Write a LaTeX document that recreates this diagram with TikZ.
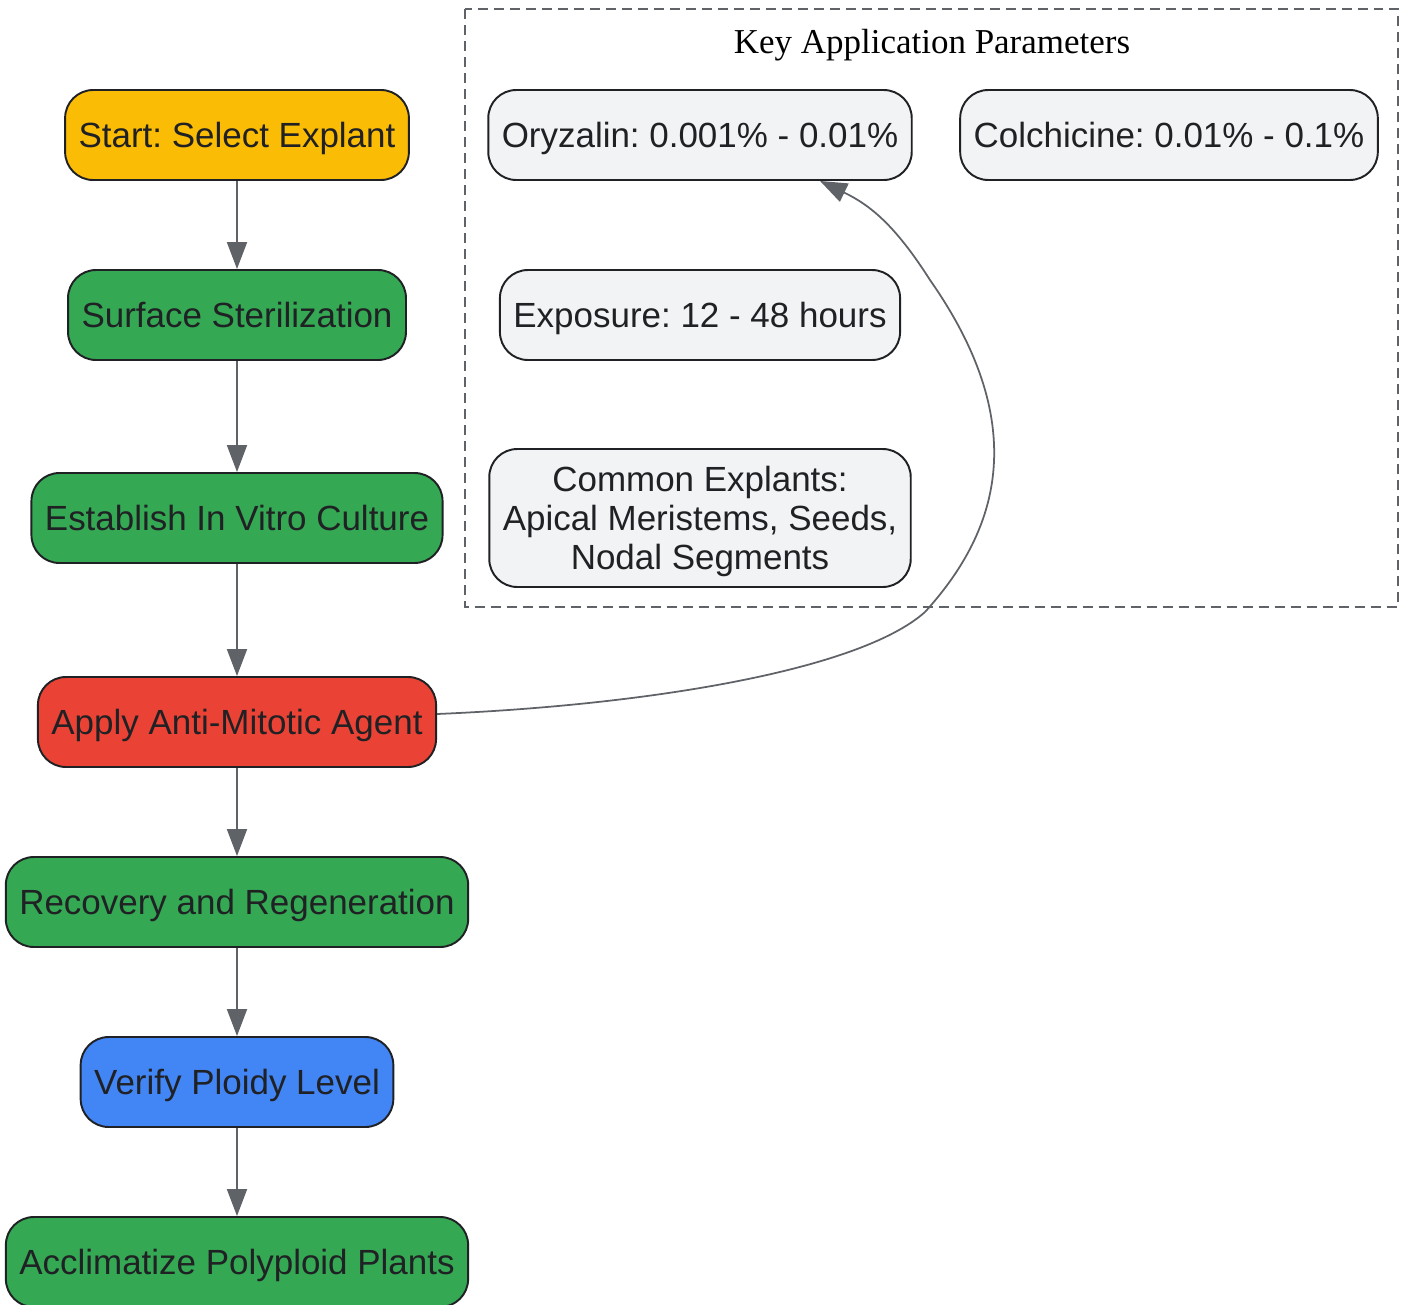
\documentclass[tikz,border=0pt]{standalone}
\usepackage{fontspec}
\setmainfont{Liberation Serif}
\setsansfont{Liberation Sans}
\frenchspacing
\usetikzlibrary{arrows.meta}

\definecolor{startyellow}{HTML}{FBBC05}
\definecolor{stepgreen}{HTML}{34A853}
\definecolor{agentred}{HTML}{EA4335}
\definecolor{checkblue}{HTML}{4285F4}
\definecolor{paramgray}{HTML}{F1F3F4}
\definecolor{darkline}{HTML}{202124}
\definecolor{edgegray}{HTML}{5F6368}

\tikzset{
  boxbase/.style={draw=darkline, line width=1.1pt, rounded corners=0.56cm,
    minimum height=1.8cm, inner xsep=0.27cm, align=center, text=darkline,
    font=\sffamily\fontsize{19.9}{22.3}\selectfont},
  stepbox/.style={boxbase, text height=0.5cm, text depth=0pt},
  parambox/.style={stepbox, fill=paramgray},
  flow/.style={draw=edgegray, line width=1.1pt,
    -{Triangle[length=0.54cm,width=0.4cm]}},
}

\begin{document}
\begin{tikzpicture}[x=0.02cm,y=-0.02cm]
\useasboundingbox (0,0) rectangle (1407,1305);

% main protocol column
\foreach \name/\y/\col/\txt in {
    start/135/startyellow/{Start: Select Explant},
    steril/315/stepgreen/{Surface Sterilization},
    culture/518/stepgreen/{Establish In Vitro Culture},
    apply/722/agentred/{Apply Anti-Mitotic Agent},
    recov/902/stepgreen/{Recovery and Regeneration},
    verify/1082/checkblue/{Verify Ploidy Level},
    acclim/1262/stepgreen/{Acclimatize Polyploid Plants}}
{
  \node[stepbox, fill=\col] (\name) at (237,\y) {\txt};
}

\foreach \a/\b in {start/steril, steril/culture, culture/apply,
                   apply/recov, recov/verify, verify/acclim}
  \draw[flow] (\a) -- (\b);

% parameter cluster
\draw[edgegray, line width=0.9pt, dash pattern=on 0.2cm off 0.12cm]
  (465,9) rectangle (1398,607);
\node[font=\fontsize{19.9}{22.3}\selectfont, text depth=0pt] (keytitle)
  at (932,41) {Key Application Parameters};

\node[parambox] (oryz) at (700,135) {Oryzalin: 0.001\% - 0.01\%};
\node[parambox] (colch) at (1169,135) {Colchicine: 0.01\% - 0.1\%};
\node[parambox] (expo) at (700,315) {Exposure: 12 - 48 hours};
\node[boxbase, fill=paramgray, text depth=0pt, minimum height=2.76cm] (common)
  at (700,518) {Common Explants:\\Apical Meristems, Seeds,\\Nodal Segments};

\draw[flow, line width=1pt] ([yshift=0.16cm]apply.east)
  .. controls (650,705) and (860,670) .. (925,612)
  .. controls (995,535) and (1035,430) .. (930,280)
  .. controls (895,225) and (870,205) .. ([xshift=2.4cm]oryz.south);
\end{tikzpicture}
\end{document}
